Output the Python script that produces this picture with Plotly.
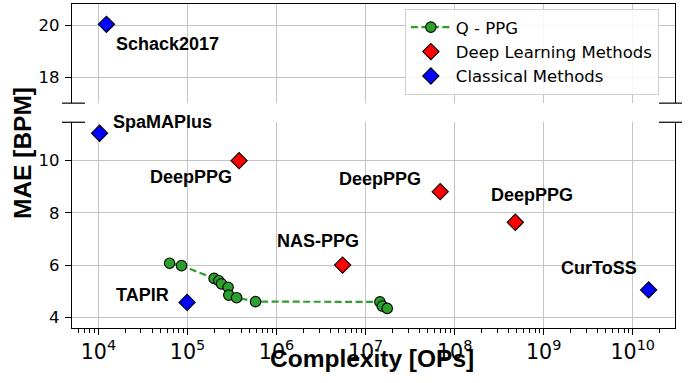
import math
import plotly.graph_objects as go

# ---- data ----
qppg_ops = [6.3e4, 8.57e4, 1.99e5, 2.25e5, 2.41e5, 2.86e5, 2.91e5, 3.56e5, 5.81e5, 1.45e7, 1.54e7, 1.75e7]
qppg_mae = [6.07, 5.98, 5.49, 5.40, 5.28, 5.15, 4.85, 4.75, 4.60, 4.59, 4.43, 4.34]

dl_names = ["DeepPPG", "DeepPPG", "DeepPPG", "NAS-PPG"]
dl_ops = [3.80e5, 6.89e7, 4.80e8, 5.52e6]
dl_mae = [10.0, 8.81, 7.64, 6.00]

cl_names = ["Schack2017", "SpaMAPlus", "TAPIR", "CurToSS"]
cl_ops = [1.23e4, 1.03e4, 9.9e4, 1.51e10]
cl_mae = [20.03, 11.05, 4.57, 5.05]

# label offsets in pixels (dx right, dy up)
dl_label_dx = [-48, -60, 17, -25]
dl_label_dy = [-16, 13, 27, 24]
cl_label_dx = [61, 63, -45, -50]
cl_label_dy = [-20, 11, 7, 22]

y_bottom_ticks = [4, 6, 8, 10]
y_top_ticks = [18, 20]

BREAK = 17.0  # values above this go to the top panel

GREEN = "#2ca02c"
TICKFONT = dict(family="DejaVu Sans", size=16.5, color="black")
LABELFONT = dict(family="Liberation Sans", size=18, color="black")

fig = go.Figure()

fig.add_trace(go.Scatter(
    x=qppg_ops, y=qppg_mae, mode="lines+markers", name="Q - PPG",
    line=dict(color=GREEN, width=2.2, dash="7px,3.5px"),
    marker=dict(size=10.5, color=GREEN, line=dict(color="black", width=1.1)),
    xaxis="x", yaxis="y", cliponaxis=False,
))
fig.add_trace(go.Scatter(
    x=dl_ops, y=dl_mae, mode="markers", name="Deep Learning Methods",
    marker=dict(symbol="diamond", size=12.5, color="#ff0000", line=dict(color="black", width=1.1)),
    xaxis="x", yaxis="y", cliponaxis=False,
))
cl_low = [(o, m) for o, m in zip(cl_ops, cl_mae) if m < BREAK]
cl_high = [(o, m) for o, m in zip(cl_ops, cl_mae) if m >= BREAK]
fig.add_trace(go.Scatter(
    x=[o for o, m in cl_low], y=[m for o, m in cl_low], mode="markers", name="Classical Methods",
    marker=dict(symbol="diamond", size=12.5, color="#0000ff", line=dict(color="black", width=1.1)),
    xaxis="x", yaxis="y", cliponaxis=False,
))
fig.add_trace(go.Scatter(
    x=[o for o, m in cl_high], y=[m for o, m in cl_high], mode="markers", name="Classical Methods",
    marker=dict(symbol="diamond", size=12.5, color="#0000ff", line=dict(color="black", width=1.1)),
    xaxis="x2", yaxis="y2", showlegend=False, cliponaxis=False,
))

annotations = []
for name, o, m, dx, dy in zip(dl_names, dl_ops, dl_mae, dl_label_dx, dl_label_dy):
    annotations.append(dict(x=math.log10(o), y=m, xref="x", yref="y", text=f"<b>{name}</b>",
                            showarrow=False, xshift=dx, yshift=dy, font=LABELFONT))
for name, o, m, dx, dy in zip(cl_names, cl_ops, cl_mae, cl_label_dx, cl_label_dy):
    top = m >= BREAK
    annotations.append(dict(x=math.log10(o), y=m, xref="x2" if top else "x", yref="y2" if top else "y",
                            text=f"<b>{name}</b>", showarrow=False, xshift=dx, yshift=dy, font=LABELFONT))

# axis titles
annotations.append(dict(x=0.498, y=-0.093, xref="paper", yref="paper", text="<b>Complexity [OPs]</b>",
                        showarrow=False, font=dict(family="Liberation Sans", size=24.5, color="black"),
                        xanchor="center", yanchor="middle"))
annotations.append(dict(x=-0.083, y=0.54, xref="paper", yref="paper", text="<b>MAE [BPM]</b>",
                        showarrow=False, textangle=-90,
                        font=dict(family="Liberation Sans", size=24.5, color="black"),
                        xanchor="center", yanchor="middle"))

xcommon = dict(type="log", range=[3.703, 10.475], showgrid=True, gridcolor="#c4c4c4", gridwidth=1,
               zeroline=False, showline=True, linecolor="black", linewidth=1.2, dtick=1)
ycommon = dict(showgrid=True, gridcolor="#c4c4c4", gridwidth=1, zeroline=False, showline=True,
               linecolor="black", linewidth=1.2, mirror=True, ticks="outside", ticklen=6,
               tickwidth=1.2, tickcolor="black", tickfont=TICKFONT, ticklabelstandoff=2)

fig.update_layout(
    width=691, height=383,
    margin=dict(l=72, r=16, t=4, b=55),
    plot_bgcolor="white", paper_bgcolor="white",
    xaxis=dict(**xcommon, anchor="y", domain=[0, 1], ticks="outside", ticklen=6, tickwidth=1.2,
               tickcolor="black", exponentformat="power", tickfont=TICKFONT,
               minor=dict(ticks="outside", ticklen=3.5, tickwidth=1, tickcolor="black",
                          dtick="D1", showgrid=False)),
    xaxis2=dict(**xcommon, anchor="y2", matches="x", side="top", showticklabels=False, ticks=""),
    yaxis=dict(**ycommon, domain=[0, 0.635], range=[3.59, 11.47], tickvals=y_bottom_ticks),
    yaxis2=dict(**ycommon, domain=[0.694, 1], range=[17.0, 20.81], tickvals=y_top_ticks),
    showlegend=True,
    legend=dict(x=0.552, y=0.985, xanchor="left", yanchor="top", itemwidth=40,
                bgcolor="rgba(255,255,255,0.85)", bordercolor="#d0d0d0", borderwidth=1,
                font=dict(family="DejaVu Sans", size=16.5, color="black"), tracegroupgap=0),
    annotations=annotations,
)

shapes = []
for yy in [0.694, 0.635]:
    for x0, x1 in [(-0.0166, 0.0216), (0.9735, 1.0116)]:
        shapes.append(dict(type="line", xref="paper", yref="paper", x0=x0, x1=x1, y0=yy, y1=yy,
                           line=dict(color="black", width=1.2)))
fig.update_layout(shapes=shapes)

fig.write_html("out.html", config={"displayModeBar": False},
               post_script="document.body.style.margin='0';document.body.style.overflow='hidden';")
